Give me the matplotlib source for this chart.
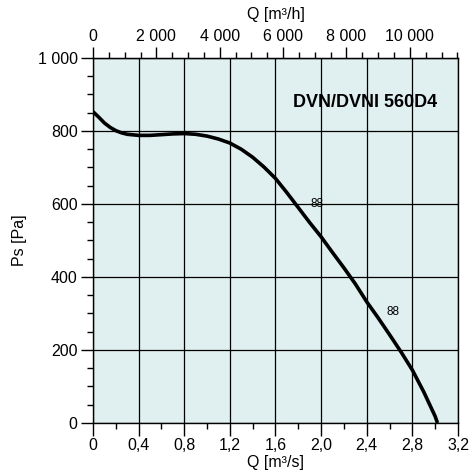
import numpy as np
import matplotlib
matplotlib.use("Agg")
import matplotlib.pyplot as plt
from matplotlib.ticker import MultipleLocator, FixedLocator, FuncFormatter

plt.rcParams['font.family'] = ['Liberation Sans', 'DejaVu Sans']

# fan curve: flow [m3/s] vs static pressure [Pa]
q = [0, 0.05, 0.1, 0.15, 0.2, 0.25, 0.3, 0.4, 0.5, 0.6, 0.7, 0.8, 0.9, 1.0,
     1.1, 1.2, 1.3, 1.4, 1.5, 1.6, 1.7, 1.8, 1.9, 2.0, 2.1, 2.2, 2.3, 2.4,
     2.5, 2.6, 2.7, 2.8, 2.9, 3.0, 3.02]
ps = [853, 838, 822, 810, 801, 795, 791, 788, 788, 790, 792, 793, 791, 786,
      778, 767, 750, 728, 701, 670, 631, 590, 549, 510, 467, 425, 381, 332,
      288, 242, 195, 145, 85, 18, 0]

title = "DVN/DVNI 560D4"
eff_labels = ["88", "88"]
eff_pos = [(1.96, 601), (2.63, 303)]

top_major = [0, 2000, 4000, 6000, 8000, 10000]
top_minor = list(range(0, 11501, 500))


def space_thousands(v, pos):
    s = '%d' % round(v)
    if len(s) > 3:
        s = s[:-3] + ' ' + s[-3:]
    return s


def comma_dec(v, pos):
    if abs(v) < 1e-9:
        return '0'
    return ('%.1f' % v).replace('.', ',')


fig = plt.figure(figsize=(4.73, 4.70), dpi=100)
ax = fig.add_axes([0.1966, 0.1, 0.7717, 0.7766])
ax.set_facecolor('#e0f0f0')

ax.plot(q, ps, color='black', lw=2.6, solid_capstyle='butt',
        solid_joinstyle='round', zorder=3)

ax.set_xlim(0, 3.2)
ax.set_ylim(0, 1000)
ax.xaxis.set_major_locator(MultipleLocator(0.4))
ax.xaxis.set_minor_locator(MultipleLocator(0.2))
ax.yaxis.set_major_locator(MultipleLocator(200))
ax.yaxis.set_minor_locator(MultipleLocator(50))
ax.xaxis.set_major_formatter(FuncFormatter(comma_dec))
ax.yaxis.set_major_formatter(FuncFormatter(space_thousands))
ax.grid(True, which='major', color='black', lw=0.9)
ax.set_axisbelow(True)
ax.tick_params(which='major', direction='out', length=9, width=1, labelsize=11.5, pad=2)
ax.tick_params(which='minor', direction='out', length=4, width=1)
for sp in ax.spines.values():
    sp.set_linewidth(1)

ax.set_xlabel('Q [m³/s]', fontsize=11.5, labelpad=1)
ax.set_ylabel('Ps [Pa]', fontsize=11.5, labelpad=8)

# top axis in m3/h
top = ax.secondary_xaxis('top', functions=(lambda x: x * 3600, lambda x: x / 3600))
top.xaxis.set_major_locator(FixedLocator(top_major))
top.xaxis.set_minor_locator(FixedLocator(top_minor))
top.xaxis.set_major_formatter(FuncFormatter(space_thousands))
top.tick_params(which='major', direction='out', length=8, width=1, labelsize=11.5, pad=2)
top.tick_params(which='minor', direction='out', length=4, width=1)
top.set_xlabel('Q [m³/h]', fontsize=11.5, labelpad=7)

ax.text(0.942, 0.877, title, transform=ax.transAxes, ha='right', va='center',
        fontsize=13, fontweight='bold')
for lab, (x, y) in zip(eff_labels, eff_pos):
    ax.text(x, y, lab, fontsize=8.5, ha='center', va='center')

fig.savefig('out.png', dpi=100)
